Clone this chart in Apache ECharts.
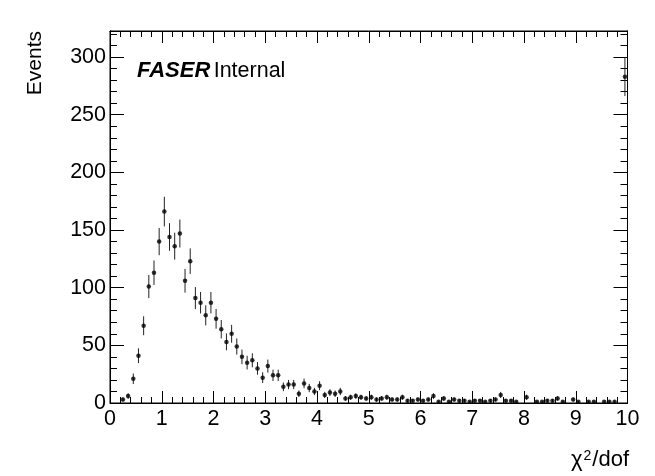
<!DOCTYPE html>
<html>
<head>
<meta charset="utf-8">
<script src="https://cdn.jsdelivr.net/npm/echarts@6/dist/echarts.min.js"></script>
<style>
html,body{margin:0;padding:0;background:#fff;}
#c{width:655px;height:476px;}
</style>
</head>
<body>
<div id="c"></div>
<script>
// Histogram: chi2/dof, 100 bins from 0 to 10
const binLow = 0;
const binWidth = 0.1;
const counts = [
  0, 0, 3, 6, 21, 41, 67, 101, 113, 140,
  166, 144, 136, 147, 106, 123, 91, 87, 76, 87,
  73, 64, 53, 60, 49, 40, 35, 37, 30, 22,
  32, 24, 24, 14, 16, 16, 8, 17, 13, 10,
  15, 7, 9, 8, 10, 4, 5, 6, 5, 4,
  5, 3, 4, 5, 3, 3, 5, 2, 2, 3,
  2, 3, 6, 1, 4, 1, 3, 2, 2, 1,
  2, 2, 1, 2, 3, 7, 2, 2, 1, 0,
  5, 0, 1, 1, 2, 2, 4, 1, 0, 3,
  1, 0, 1, 1, 0, 1, 1, 1, 0, 283
];
const xTicks = [0,1,2,3,4,5,6,7,8,9,10];
const yTicks = [0,50,100,150,200,250,300];
const yTitle = 'Events';

const pts = [];
counts.forEach((v, i) => {
  if (v > 0) pts.push([binLow + (i + 0.5) * binWidth, v, Math.sqrt(v)]);
});

const FONT = '"Liberation Sans", Helvetica, Arial, sans-serif';
const chart = echarts.init(document.getElementById('c'), null, {renderer: 'canvas'});
const X0 = 0, X1 = 10, Y0 = 0, Y1 = 322.6;
const grid = {left: 110, right: 27.5, top: 31, bottom: 73, show: true, borderColor: '#000', borderWidth: 1, backgroundColor: 'transparent'};

function xAx(pos, labels) {
  return {
    type: 'value', position: pos, min: X0, max: X1, interval: 1,
    axisLine: {show: true, onZero: false, lineStyle: {color: '#000', width: 1}},
    axisTick: {show: true, inside: true, length: 12, lineStyle: {color: '#000', width: 1}},
    minorTick: {show: true, splitNumber: 5, length: 6, lineStyle: {color: '#000', width: 1}},
    splitLine: {show: false}, minorSplitLine: {show: false},
    axisLabel: {show: labels, margin: 5, color: '#000', fontSize: 21.5, fontFamily: FONT,
      formatter: v => xTicks.indexOf(v) >= 0 ? String(v) : ''}
  };
}
function yAx(pos, interval, len, labels) {
  return {
    type: 'value', position: pos, min: Y0, max: Y1, interval: interval,
    axisLine: {show: true, onZero: false, lineStyle: {color: '#000', width: 1}},
    axisTick: {show: true, inside: true, length: len, lineStyle: {color: '#000', width: 1}},
    splitLine: {show: false},
    axisLabel: {show: labels, margin: 4, color: '#000', fontSize: 21.5, fontFamily: FONT,
      showMaxLabel: false,
      formatter: v => yTicks.indexOf(v) >= 0 ? String(v) : ''}
  };
}

chart.setOption({
  animation: false,
  backgroundColor: '#fff',
  grid: grid,
  xAxis: [xAx('bottom', true), xAx('top', false)],
  yAxis: [yAx('left', 50, 14, true), yAx('left', 10, 7, false), yAx('right', 50, 14, false), yAx('right', 10, 7, false)],
  series: [
    {
      type: 'custom',
      xAxisIndex: 0, yAxisIndex: 0,
      clip: true,
      data: pts,
      renderItem: function (params, api) {
        const x = api.value(0), v = api.value(1), e = api.value(2);
        const p1 = api.coord([x, v + e]);
        const p2 = api.coord([x, Math.max(v - e, 0)]);
        return {
          type: 'line',
          shape: {x1: p1[0], y1: p1[1], x2: p2[0], y2: p2[1]},
          style: {stroke: '#222', lineWidth: 1}
        };
      },
      z: 3
    },
    {
      type: 'scatter',
      xAxisIndex: 0, yAxisIndex: 0,
      data: pts.map(p => [p[0], p[1]]),
      symbol: 'circle', symbolSize: 4.5,
      itemStyle: {color: '#000'},
      z: 4
    }
  ],
  graphic: [
    {type: 'text', left: 25, top: 31, rotation: Math.PI / 2,
      style: {text: yTitle, fill: '#000', font: '21px ' + FONT}},
    {type: 'text', right: 26, top: 449,
      style: {
        text: '{a|χ}{s|2}{a|/dof}',
        rich: {
          a: {fill: '#000', font: '22px ' + FONT, verticalAlign: 'bottom'},
          s: {fill: '#000', font: '14px ' + FONT, verticalAlign: 'top', padding: [0,1,0,1]}
        }
      }},
    {type: 'text', left: 137, top: 60,
      style: {
        text: '{b|FASER} {n|Internal}',
        rich: {
          b: {fill: '#000', font: 'italic bold 22px ' + FONT},
          n: {fill: '#000', font: '21.5px ' + FONT}
        }
      }}
  ]
});
</script>
</body>
</html>
